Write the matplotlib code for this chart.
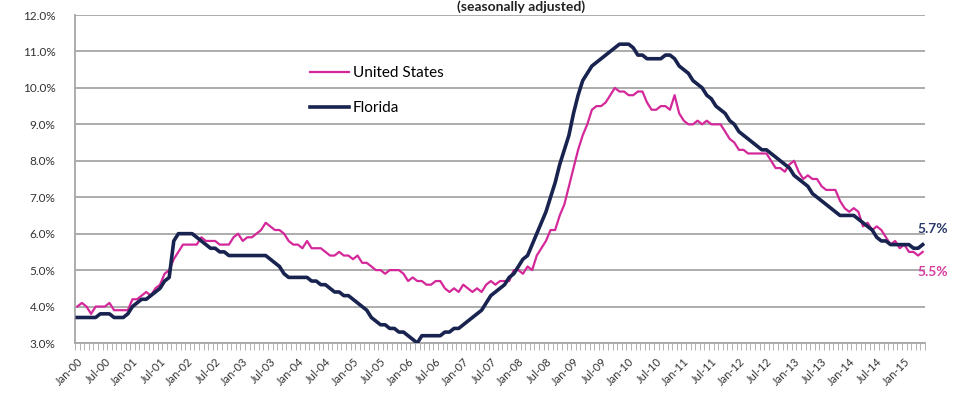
import numpy as np
import pandas as pd
import matplotlib
matplotlib.use("Agg")
import matplotlib.pyplot as plt

plt.rcParams["font.family"] = ["Lato", "DejaVu Sans"]

# monthly unemployment rate, Jan-2000 .. May-2015 (percent)
us_rate = [
    4.0, 4.1, 4.0, 3.8, 4.0, 4.0, 4.0, 4.1, 3.9, 3.9, 3.9, 3.9,
    4.2, 4.2, 4.3, 4.4, 4.3, 4.5, 4.6, 4.9, 5.0, 5.3, 5.5, 5.7,
    5.7, 5.7, 5.7, 5.9, 5.8, 5.8, 5.8, 5.7, 5.7, 5.7, 5.9, 6.0,
    5.8, 5.9, 5.9, 6.0, 6.1, 6.3, 6.2, 6.1, 6.1, 6.0, 5.8, 5.7,
    5.7, 5.6, 5.8, 5.6, 5.6, 5.6, 5.5, 5.4, 5.4, 5.5, 5.4, 5.4,
    5.3, 5.4, 5.2, 5.2, 5.1, 5.0, 5.0, 4.9, 5.0, 5.0, 5.0, 4.9,
    4.7, 4.8, 4.7, 4.7, 4.6, 4.6, 4.7, 4.7, 4.5, 4.4, 4.5, 4.4,
    4.6, 4.5, 4.4, 4.5, 4.4, 4.6, 4.7, 4.6, 4.7, 4.7, 4.7, 5.0,
    5.0, 4.9, 5.1, 5.0, 5.4, 5.6, 5.8, 6.1, 6.1, 6.5, 6.8, 7.3,
    7.8, 8.3, 8.7, 9.0, 9.4, 9.5, 9.5, 9.6, 9.8, 10.0, 9.9, 9.9,
    9.8, 9.8, 9.9, 9.9, 9.6, 9.4, 9.4, 9.5, 9.5, 9.4, 9.8, 9.3,
    9.1, 9.0, 9.0, 9.1, 9.0, 9.1, 9.0, 9.0, 9.0, 8.8, 8.6, 8.5,
    8.3, 8.3, 8.2, 8.2, 8.2, 8.2, 8.2, 8.0, 7.8, 7.8, 7.7, 7.9,
    8.0, 7.7, 7.5, 7.6, 7.5, 7.5, 7.3, 7.2, 7.2, 7.2, 6.9, 6.7,
    6.6, 6.7, 6.6, 6.2, 6.3, 6.1, 6.2, 6.1, 5.9, 5.7, 5.8, 5.6,
    5.7, 5.5, 5.5, 5.4, 5.5,
]

florida_rate = [
    3.7, 3.7, 3.7, 3.7, 3.7, 3.8, 3.8, 3.8, 3.7, 3.7, 3.7, 3.8,
    4.0, 4.1, 4.2, 4.2, 4.3, 4.4, 4.5, 4.7, 4.8, 5.8, 6.0, 6.0,
    6.0, 6.0, 5.9, 5.8, 5.7, 5.6, 5.6, 5.5, 5.5, 5.4, 5.4, 5.4,
    5.4, 5.4, 5.4, 5.4, 5.4, 5.4, 5.3, 5.2, 5.1, 4.9, 4.8, 4.8,
    4.8, 4.8, 4.8, 4.7, 4.7, 4.6, 4.6, 4.5, 4.4, 4.4, 4.3, 4.3,
    4.2, 4.1, 4.0, 3.9, 3.7, 3.6, 3.5, 3.5, 3.4, 3.4, 3.3, 3.3,
    3.2, 3.1, 3.0, 3.2, 3.2, 3.2, 3.2, 3.2, 3.3, 3.3, 3.4, 3.4,
    3.5, 3.6, 3.7, 3.8, 3.9, 4.1, 4.3, 4.4, 4.5, 4.6, 4.8, 4.9,
    5.1, 5.3, 5.4, 5.7, 6.0, 6.3, 6.6, 7.0, 7.4, 7.9, 8.3, 8.7,
    9.3, 9.8, 10.2, 10.4, 10.6, 10.7, 10.8, 10.9, 11.0, 11.1, 11.2, 11.2,
    11.2, 11.1, 10.9, 10.9, 10.8, 10.8, 10.8, 10.8, 10.9, 10.9, 10.8, 10.6,
    10.5, 10.4, 10.2, 10.1, 10.0, 9.8, 9.7, 9.5, 9.4, 9.3, 9.1, 9.0,
    8.8, 8.7, 8.6, 8.5, 8.4, 8.3, 8.3, 8.2, 8.1, 8.0, 7.9, 7.8,
    7.6, 7.5, 7.4, 7.3, 7.1, 7.0, 6.9, 6.8, 6.7, 6.6, 6.5, 6.5,
    6.5, 6.5, 6.4, 6.3, 6.2, 6.1, 5.9, 5.8, 5.8, 5.7, 5.7, 5.7,
    5.7, 5.7, 5.6, 5.6, 5.7,
]

months = pd.date_range("2000-01-01", periods=len(us_rate), freq="MS")
tick_pos = [i for i, d in enumerate(months) if d.month in (1, 7)]
tick_labels = [months[i].strftime("%b-%y") for i in tick_pos]
y_ticks = np.arange(3.0, 12.01, 1.0)

us_color = "#d4289a"
fl_color = "#18234f"
grid_color = "#a6a6a6"

fig = plt.figure(figsize=(9.68, 4.01), dpi=100)
ax = fig.add_axes([75 / 968, 1 - 343 / 401, 850 / 968, 328 / 401])

x = np.arange(len(us_rate))
ax.plot(x, us_rate, color=us_color, lw=1.6, label="United States", zorder=3)
ax.plot(x, florida_rate, color=fl_color, lw=2.6, label="Florida", zorder=4)

ax.set_xlim(-0.5, len(us_rate) - 0.5)
ax.set_ylim(3.0, 12.0)
ax.set_yticks(y_ticks)
ax.set_yticklabels([f"{v:.1f}%" for v in y_ticks], fontsize=8.5, color="#333333")
ax.yaxis.grid(True, color=grid_color, lw=1.3)
ax.set_axisbelow(True)

ax.set_xticks(tick_pos)
ax.set_xticklabels(tick_labels, rotation=45, ha="right", va="top",
                   rotation_mode="anchor", fontsize=8, color="#333333")
ax.set_xticks(np.arange(-0.5, len(us_rate), 1.0), minor=True)
ax.tick_params(axis="x", which="major", length=0, pad=9)
ax.tick_params(axis="x", which="minor", length=5, width=0.6, color=grid_color, direction="out")
ax.tick_params(axis="y", length=0, pad=14)

for side in ("top", "right"):
    ax.spines[side].set_visible(False)
ax.spines["left"].set_color(grid_color)
ax.spines["left"].set_linewidth(1.3)
ax.spines["bottom"].set_color(grid_color)
ax.spines["bottom"].set_linewidth(1.3)

ax.legend(loc="upper left", bbox_to_anchor=(0.26, 0.885), frameon=False,
          fontsize=11, handlelength=2.6, handletextpad=0.2, labelspacing=1.35)

ax.annotate(f"{florida_rate[-1]:.1f}%", xy=(x[-1], florida_rate[-1]), xytext=(-4, 11.5),
            textcoords="offset points", ha="left", va="center", fontsize=10,
            fontweight="bold", color="#2b3a6b", annotation_clip=False)
ax.annotate(f"{us_rate[-1]:.1f}%", xy=(x[-1], us_rate[-1]), xytext=(-4, -14.5),
            textcoords="offset points", ha="left", va="center", fontsize=10,
            fontweight="bold", color="#d63c9e", annotation_clip=False)

fig.text(0.538, 1 - 11 / 401, "(seasonally adjusted)", ha="center", va="baseline",
         fontsize=10, fontweight="bold", color="#222222")

fig.savefig("out.png", dpi=100, facecolor="white")
